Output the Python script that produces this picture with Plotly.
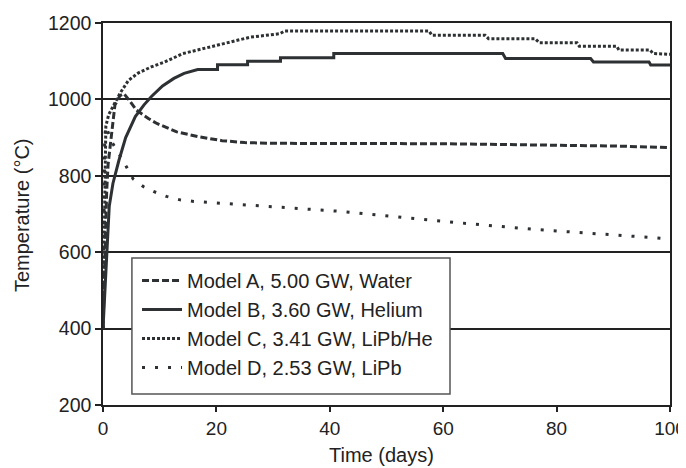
import plotly.graph_objects as go

# ---- data ----
model_a_days = [0, 0.3, 0.65, 0.9, 1.5, 2.1, 3.0, 3.7, 4.5, 5.9, 8, 9.5, 13, 17, 21, 25, 30, 45, 60, 70, 80, 90, 100]
model_a_temp = [400, 600, 760, 830, 912, 985, 1010, 1015, 1000, 972, 950, 937, 915, 902, 892, 887, 885, 885, 884, 882, 880, 878, 874]

model_b_days = [0, 0.35, 0.65, 1.1, 1.75, 2.8, 4.0, 5.7, 7.2, 8.5, 10.5, 12.5, 14.3, 16.7, 20.2, 20.2, 25.5, 25.5,
                31.3, 31.3, 40.7, 40.7, 70.5, 71, 86, 86.5, 96.3, 96.6, 100]
model_b_temp = [400, 510, 600, 720, 780, 840, 900, 955, 985, 1007, 1035, 1055, 1068, 1078, 1078, 1091, 1091, 1100,
                1100, 1109, 1109, 1120, 1120, 1107, 1107, 1098, 1098, 1090, 1090]

model_c_days = [0, 0.2, 0.35, 0.5, 1, 2, 3, 4.5, 6.2, 8.5, 10.9, 14.1, 20, 26, 31.2, 32, 57.5, 58, 67.4, 68,
                76.2, 77, 83.6, 84, 90.6, 91, 96.5, 97, 100]
model_c_temp = [400, 650, 860, 930, 960, 990, 1016, 1050, 1069, 1085, 1098, 1120, 1142, 1163, 1172, 1179, 1179, 1168,
                1168, 1159, 1159, 1148, 1148, 1139, 1139, 1129, 1129, 1120, 1118]

model_d_days = [0, 0.15, 0.3, 0.5, 1.5, 3.3, 4.2, 5.3, 7.1, 8.9, 11.2, 13.6, 16, 22.9, 27.7, 32.4, 37, 41.8, 46.5,
                51.2, 55.9, 60.6, 65, 76.7, 88.5, 97.9, 100]
model_d_temp = [400, 650, 900, 930, 890, 846, 820, 792, 772, 759, 746, 737, 733, 726, 721, 717, 711, 707, 700,
                693, 687, 680, 674, 659, 646, 637, 635]

series_names = ["Model A, 5.00 GW, Water", "Model B, 3.60 GW, Helium",
                "Model C, 3.41 GW, LiPb/He", "Model D, 2.53 GW, LiPb"]

x_ticks = [0, 20, 40, 60, 80, 100]
y_ticks = [200, 400, 600, 800, 1000, 1200]

x_title = "Time (days)"
y_title = "Temperature (°C)"

line_color = "#2e3133"
dash_styles = ["7px,3px", "solid", "3px,2px", "3px,10px"]

fig = go.Figure()
for name, xs, ys, dash in zip(series_names,
                              [model_a_days, model_b_days, model_c_days, model_d_days],
                              [model_a_temp, model_b_temp, model_c_temp, model_d_temp],
                              dash_styles):
    fig.add_trace(go.Scatter(x=xs, y=ys, mode="lines", name=name,
                             line=dict(color=line_color, width=3, dash=dash)))

font_family = "Liberation Sans, Arial, Helvetica, sans-serif"
text_color = "#222222"

# page body adds an 8px offset; size the figure so it fits the 686x468 window
fig.update_layout(
    width=678, height=460,
    margin=dict(l=95, r=16, t=15, b=63),
    paper_bgcolor="white", plot_bgcolor="white",
    font=dict(family=font_family, size=20, color=text_color),
    showlegend=True,
    legend=dict(x=0.06, y=0.377, xanchor="left", yanchor="top",
                bgcolor="rgba(0,0,0,0)", borderwidth=0,
                font=dict(size=20, color=text_color),
                tracegroupgap=0, itemwidth=40),
    shapes=[dict(type="rect", xref="paper", yref="paper", x0=0.051, x1=0.612, y0=0.029, y1=0.385,
                 fillcolor="white", line=dict(color="#555555", width=1.5), layer="above")],
    xaxis=dict(range=[0, 100], tickvals=x_ticks, showgrid=False, zeroline=False, automargin=False,
               showline=True, linecolor="#222222", linewidth=1.5, mirror=True,
               ticks="outside", ticklen=5, tickcolor="#222222", tickwidth=1.5,
               ticklabeloverflow="allow", tickfont=dict(size=19)),
    yaxis=dict(range=[200, 1200], tickvals=y_ticks, showgrid=True, gridcolor="#222222", gridwidth=1.5,
               zeroline=False, showline=True, linecolor="#222222", linewidth=1.5, mirror=True, automargin=False,
               ticks="outside", ticklen=6, tickcolor="#222222", tickwidth=1.5,
               ticklabeloverflow="allow", tickfont=dict(size=19.5)),
    annotations=[
        dict(text=x_title, xref="paper", yref="paper", x=0.492, y=-0.131,
             xanchor="center", yanchor="middle", showarrow=False, font=dict(size=20)),
        dict(text=y_title, xref="paper", yref="paper", x=-0.143, y=0.497, textangle=-90,
             xanchor="center", yanchor="middle", showarrow=False, font=dict(size=20)),
    ],
)

fig.write_html("out.html")
